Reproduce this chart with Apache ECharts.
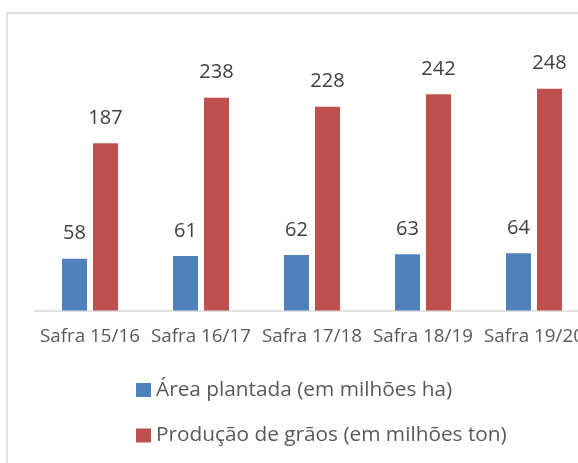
<!DOCTYPE html>
<html>
<head>
<meta charset="utf-8">
<script src="https://cdn.jsdelivr.net/npm/echarts@6/dist/echarts.min.js"></script>
<style>
html,body{margin:0;padding:0;background:#fff;}
#main{width:578px;height:463px;}
</style>
</head>
<body>
<div id="main"></div>
<script>
const categories = ['Safra 15/16', 'Safra 16/17', 'Safra 17/18', 'Safra 18/19', 'Safra 19/20'];
const areaPlantada = [58, 61, 62, 63, 64];
const producaoGraos = [187, 238, 228, 242, 248];
const seriesNames = ['Área plantada (em milhões ha)', 'Produção de grãos (em milhões ton)'];

const chart = echarts.init(document.getElementById('main'));
const FONT = '"Open Sans", "Noto Sans", sans-serif';
chart.setOption({
  animation: false,
  backgroundColor: '#ffffff',
  graphic: [{
    type: 'rect',
    shape: { x: 7, y: 13, width: 700, height: 600 },
    style: { fill: 'none', stroke: '#D9D9D9', lineWidth: 1.5 },
    silent: true
  }],
  grid: { left: 34.5, top: 42.3, width: 555, height: 268.2, outerBoundsMode: 'none', containLabel: false },
  xAxis: {
    type: 'category',
    data: categories,
    axisLine: { lineStyle: { color: '#D9D9D9', width: 1.5 } },
    axisTick: { show: false },
    axisLabel: { color: '#595959', fontSize: 18.8, fontFamily: FONT, margin: 17, interval: 0, hideOverlap: false }
  },
  yAxis: {
    type: 'value', min: 0, max: 300, show: false,
    splitLine: { show: false }
  },
  legend: {
    orient: 'vertical',
    left: 136, top: 379,
    padding: 0,
    itemWidth: 15, itemHeight: 14, itemGap: 23.5,
    icon: 'rect',
    textStyle: { color: '#595959', fontSize: 20.8, fontFamily: FONT, lineHeight: 22 },
    data: seriesNames
  },
  series: [
    {
      name: seriesNames[0], type: 'bar', data: areaPlantada,
      barWidth: 25, barGap: '24%',
      itemStyle: { color: '#4F81BD' },
      label: { show: true, position: 'top', distance: 15, color: '#404040', fontSize: 20, fontFamily: FONT }
    },
    {
      name: seriesNames[1], type: 'bar', data: producaoGraos,
      barWidth: 25,
      itemStyle: { color: '#C0504D' },
      label: { show: true, position: 'top', distance: 15, color: '#404040', fontSize: 20, fontFamily: FONT }
    }
  ]
});
</script>
</body>
</html>
